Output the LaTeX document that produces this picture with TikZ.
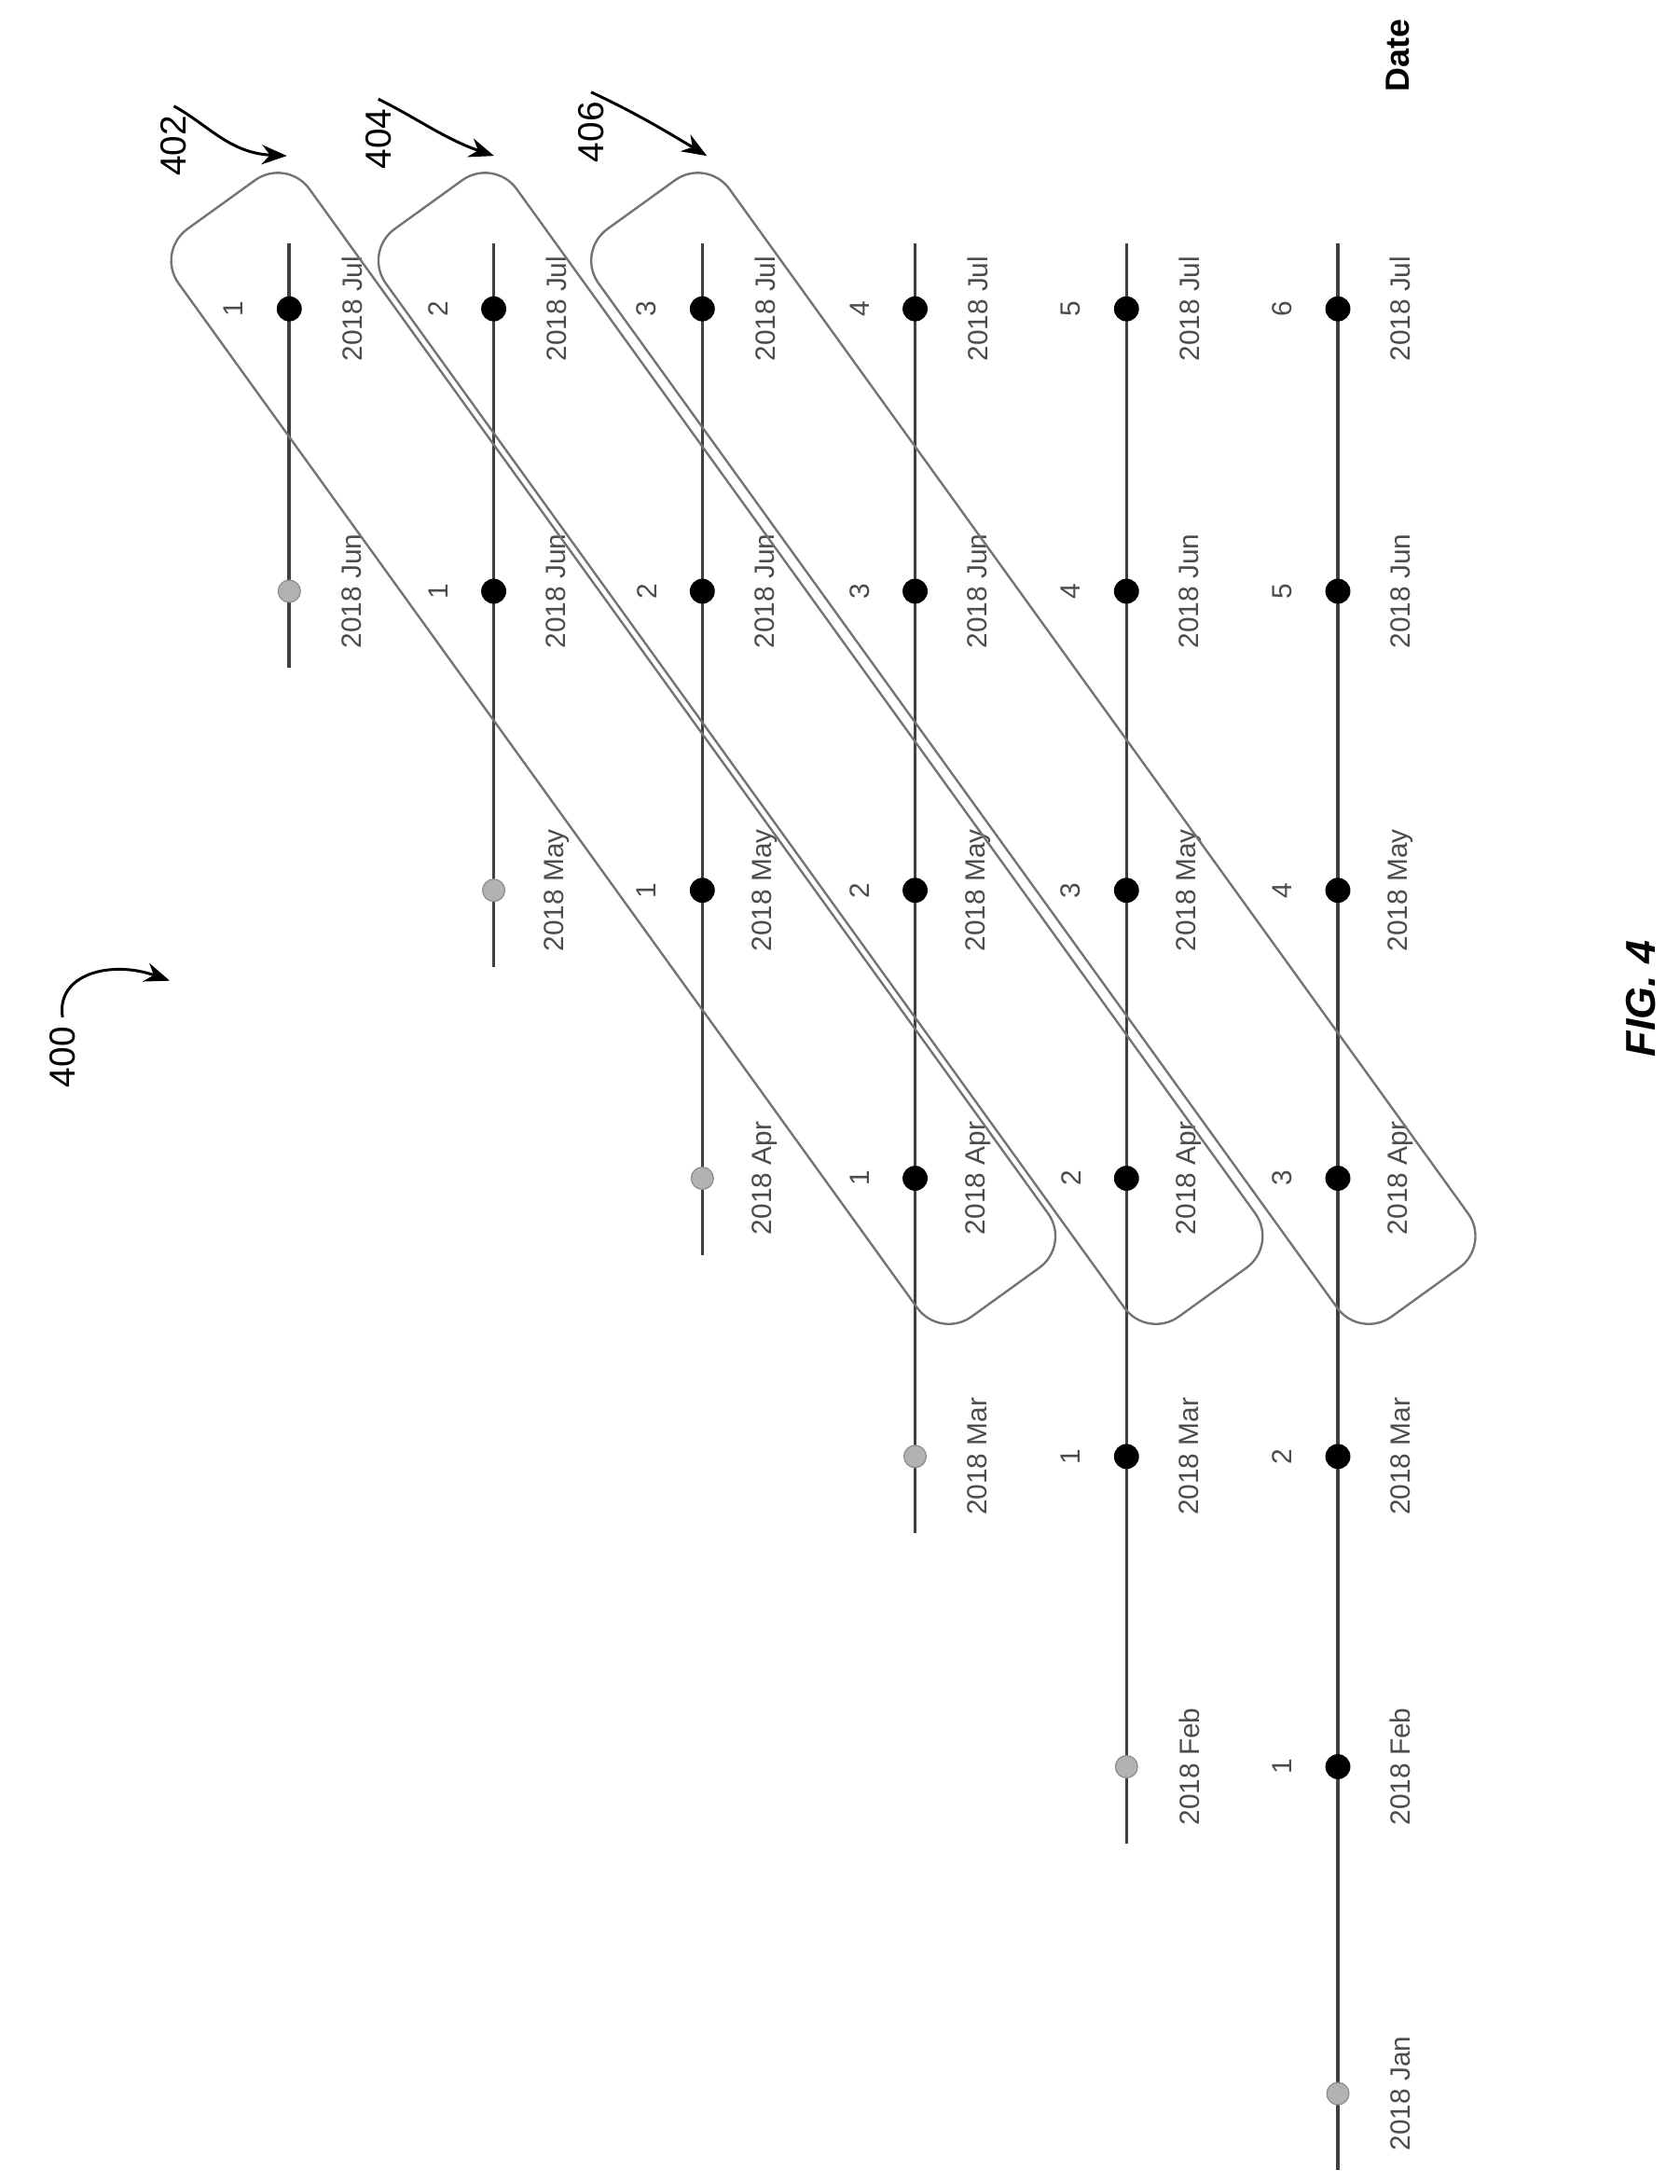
\documentclass[tikz,border=0pt]{standalone}
\usepackage{fontspec}
\setmainfont{Liberation Sans}
\usetikzlibrary{arrows.meta}
\begin{document}
\begin{tikzpicture}[x=0.5pt,y=-0.5pt,
  tl/.style={draw=black!75,line width=1.2pt},
  gdot/.style={circle,fill=black!30,draw=black!45,inner sep=0pt,minimum size=8pt},
  bdot/.style={circle,fill=black,inner sep=0pt,minimum size=9pt},
  lab/.style={rotate=90,text=black!70,font=\fontsize{10}{12}\selectfont},
  box/.style={draw=black!55,line width=0.8pt,rounded corners=14pt,rotate=-54.2,minimum width=482pt,minimum height=58pt,inner sep=0pt},
  ref/.style={rotate=90,font=\fontsize{13}{15}\selectfont},
  arr/.style={-{Stealth[length=9pt,width=7pt]},line width=1pt}]
\useasboundingbox (0,0) rectangle (1208,1570);
\def\ys{{0,222,425,640,847,1047,1270,1505}}
\def\mons{{"","Jul","Jun","May","Apr","Mar","Feb","Jan"}}
\foreach \L/\x in {1/208,2/355,3/505,4/658,5/810,6/962}{
  \pgfmathtruncatemacro{\g}{\L+1}
  \pgfmathsetmacro{\gy}{\ys[\g]}
  \coordinate (t\L) at (\x,175);
  \coordinate (b\L) at (\x,\gy+55);
  \draw[tl] (t\L) -- (b\L);
  \pgfmathsetmacro{\gm}{\mons[\g]}
  \node[gdot] (g\L) at (\x,\gy) {};
  \node[lab] (gl\L) at (\x+45,\gy) {2018 \gm};
  \foreach \k in {1,...,\L}{
    \pgfmathsetmacro{\yy}{\ys[\k]}
    \pgfmathsetmacro{\mm}{\mons[\k]}
    \pgfmathtruncatemacro{\n}{\L-\k+1}
    \node[bdot] (d\L-\k) at (\x,\yy) {};
    \node[lab] (n\L-\k) at (\x-40,\yy) {\n};
    \node[lab] (dl\L-\k) at (\x+45,\yy) {2018 \mm};
  }
}
\node[box] (B402) at (441,538) {};
\node[box] (B404) at (590,538) {};
\node[box] (B406) at (743,538) {};
\node[ref] (r400) at (45,760) {400};
\node[ref] (r402) at (125,105) {402};
\node[ref] (r404) at (272,100) {404};
\node[ref] (r406) at (425,95) {406};
\coordinate (a400) at (122,705);
\draw[arr] (r400.east) .. controls (40,700) and (80,690) .. (a400);
\draw[arr] (r402.east) .. controls (150,90) and (165,110) .. (B402.north west);
\draw[arr] (r404.east) .. controls (300,85) and (320,100) .. (B404.north west);
\draw[arr] (r406.east) .. controls (455,80) and (480,95) .. (B406.north west);
\node[rotate=90,font=\bfseries\fontsize{12}{14}\selectfont] (date) at (1005,40) {Date};
\node[rotate=90,font=\bfseries\itshape\fontsize{15}{18}\selectfont] (fig) at (1180,718) {FIG. 4};
\end{tikzpicture}
\end{document}
